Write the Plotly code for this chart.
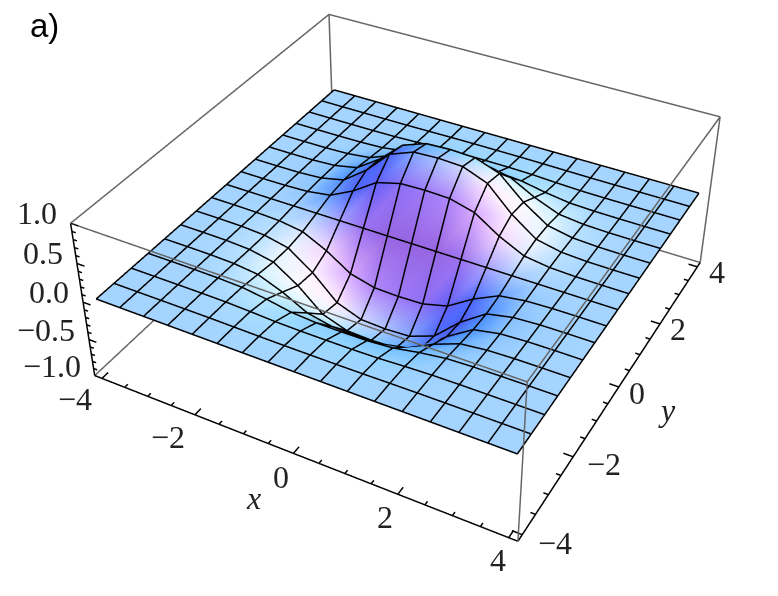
import numpy as np
import plotly.graph_objects as go

x_values = [-4, -3.5, -3, -2.5, -2, -1.5, -1, -0.5, 0, 0.5, 1, 1.5, 2, 2.5, 3, 3.5, 4]
y_values = [-4, -3.5, -3, -2.5, -2, -1.5, -1, -0.5, 0, 0.5, 1, 1.5, 2, 2.5, 3, 3.5, 4]
# surface height, rows run along y, columns along x
z_rows = [
 [0]*17,
 [0,0,0,0,-.001,-.004,-.008,-.01,-.01,-.01,-.008,-.004,-.001,0,0,0,0],
 [0,0,0,-.001,-.005,-.017,-.033,-.039,-.04,-.039,-.033,-.017,-.005,-.001,0,0,0],
 [0,0,-.001,-.005,-.018,-.063,-.123,-.147,-.15,-.147,-.123,-.063,-.018,-.005,-.001,0,0],
 [0,0,-.002,-.013,-.05,-.176,-.344,-.412,-.42,-.412,-.344,-.176,-.05,-.013,-.002,0,0],
 [0,0,-.004,-.021,-.084,-.294,-.574,-.686,-.70,-.686,-.574,-.294,-.084,-.021,-.004,0,0],
 [0,0,-.004,-.023,-.091,-.319,-.623,-.745,-.76,-.745,-.623,-.319,-.091,-.023,-.004,0,0],
 [0,0,-.003,-.016,-.062,-.218,-.426,-.51,-.52,-.51,-.426,-.218,-.062,-.016,-.003,0,0],
 [0]*17,
 [0,0,.003,.016,.062,.218,.426,.51,.52,.51,.426,.218,.062,.016,.003,0,0],
 [0,0,.004,.023,.091,.319,.623,.745,.76,.745,.623,.319,.091,.023,.004,0,0],
 [0,0,.004,.021,.084,.294,.574,.686,.70,.686,.574,.294,.084,.021,.004,0,0],
 [0,0,.002,.013,.05,.176,.344,.412,.42,.412,.344,.176,.05,.013,.002,0,0],
 [0,0,.001,.005,.018,.063,.123,.147,.15,.147,.123,.063,.018,.005,.001,0,0],
 [0,0,0,.001,.005,.017,.033,.039,.04,.039,.033,.017,.005,.001,0,0,0],
 [0,0,0,0,.001,.004,.008,.01,.01,.01,.008,.004,.001,0,0,0,0],
 [0]*17,
]
xy_ticks = [-4, -2, 0, 2, 4]
xy_minor = [-3.5,-3,-2.5,-1.5,-1,-.5,.5,1,1.5,2.5,3,3.5]
z_ticks = [-1.0, -0.5, 0.0, 0.5, 1.0]
z_minor = [-.9,-.8,-.7,-.6,-.4,-.3,-.2,-.1,.1,.2,.3,.4,.6,.7,.8,.9]

X = np.array(x_values, float)
Y = np.array(y_values, float)
Z = np.array(z_rows, float)
BOX = (1.0, 1.0, 0.4)
VIEW = np.array([1.3, -2.4, 2.0])
XY_EDGE = 4.16
Z_EDGE = 1.0

v = VIEW / np.linalg.norm(VIEW)
r = np.cross(-v, [0, 0, 1]); r /= np.linalg.norm(r)
u = np.cross(r, -v)
dz_y, dz_x = np.gradient(Z * BOX[2] / (2 * Z_EDGE), Y * BOX[1] / (2 * XY_EDGE), X * BOX[0] / (2 * XY_EDGE))
n = np.dstack([-dz_x, -dz_y, np.ones_like(Z)])
n /= np.linalg.norm(n, axis=2, keepdims=True)
nc = np.dstack([n @ r, n @ u, n @ v])
def lit(d):
    d = np.array(d, float); d /= np.linalg.norm(d)
    return np.clip(nc @ d, 0, None)
R = np.clip(.312 + .8 * lit([2, 0, 2]), 0, 1)
G = np.clip(.188 + .8 * lit([2, 2, 2]), 0, 1)
B = np.clip(.4 + .8 * lit([0, 2, 2]), 0, 1)
colors = [f"rgb({int(a*255)},{int(b*255)},{int(c*255)})" for a, b, c in zip(R.ravel(), G.ravel(), B.ravel())]

XX, YY = np.meshgrid(X, Y)
nx, ny = len(X), len(Y)
I, J, K = [], [], []
for a in range(ny - 1):
    for b in range(nx - 1):
        p = a * nx + b
        I += [p, p]; J += [p + 1, p + nx + 1]; K += [p + nx + 1, p + nx]

fig = go.Figure()
fig.add_trace(go.Mesh3d(x=XX.ravel(), y=YY.ravel(), z=Z.ravel(), i=I, j=J, k=K,
    vertexcolor=colors, flatshading=False, hoverinfo="skip",
    lighting=dict(ambient=1, diffuse=0, specular=0, roughness=1, fresnel=0)))

mx, my, mz = [], [], []
for a in range(ny):
    mx += list(X) + [None]; my += [Y[a]] * nx + [None]; mz += list(Z[a] + .012) + [None]
for b in range(nx):
    mx += [X[b]] * ny + [None]; my += list(Y) + [None]; mz += list(Z[:, b] + .012) + [None]
fig.add_trace(go.Scatter3d(x=mx, y=my, z=mz, mode="lines", line=dict(color="black", width=3), hoverinfo="skip", showlegend=False))

E = XY_EDGE
# grey back and top edges of the box
gx = [-E, E, E, -E, -E, None, E, E, None, E, E, None, -E, -E, None, -E, E, E, None, -E, -E]
gy = [-E, -E, E, E, -E, None, -E, -E, None, E, E, None, E, E, None, E, E, -E, None, E, -E]
gz = [1, 1, 1, 1, 1, None, 1, -1, None, 1, -1, None, 1, -1, None, -1, -1, -1, None, -1, -1]
fig.add_trace(go.Scatter3d(x=gx, y=gy, z=gz, mode="lines", line=dict(color="#666666", width=3), hoverinfo="skip", showlegend=False))

# black front edges and ticks pointing into the box
ex, ey, ez = [-E, E, None, E, E, None, -E, -E], [-E, -E, None, -E, E, None, -E, -E], [-1, -1, None, -1, -1, None, -1, 1]
for t, L in [(t, .18) for t in xy_ticks] + [(t, .09) for t in xy_minor]:
    ex += [None, t, t]; ey += [None, -E, -E + L]; ez += [None, -1, -1]
    ex += [None, E, E - L]; ey += [None, t, t]; ez += [None, -1, -1]
for t, L in [(t, .16) for t in z_ticks] + [(t, .08) for t in z_minor]:
    ex += [None, -E, -E + L]; ey += [None, -E, -E]; ez += [None, t, t]
fig.add_trace(go.Scatter3d(x=ex, y=ey, z=ez, mode="lines", line=dict(color="black", width=3), hoverinfo="skip", showlegend=False))

FONT = dict(family="Liberation Serif", size=32, color="#222222")
def axis(rng):
    return dict(range=rng, showgrid=False, zeroline=False, showbackground=False, showticklabels=False,
                showline=False, ticks="", showspikes=False, title=dict(text=""))

def minus(v, fmt):
    return format(v, fmt).replace("-", "\u2212")
X_LABEL_SHIFT = {-4: (-27, -21), -2: (-27, -22), 0: (-12, -24), 2: (-13, -23), 4: (-11, -22)}
Y_LABEL_SHIFT = {-4: (33, -8), -2: (31, -7), 0: (18, -6), 2: (18, -5), 4: (20, -5)}
notes = []
for t in xy_ticks:
    notes.append(dict(x=t, y=-E, z=-1, text=minus(t, "d"), xanchor="center", yanchor="middle", xshift=X_LABEL_SHIFT[t][0], yshift=X_LABEL_SHIFT[t][1], showarrow=False, font=FONT))
    notes.append(dict(x=E, y=t, z=-1, text=minus(t, "d"), xanchor="center", yanchor="middle", xshift=Y_LABEL_SHIFT[t][0], yshift=Y_LABEL_SHIFT[t][1], showarrow=False, font=FONT))
for t in z_ticks:
    notes.append(dict(x=-E, y=-E, z=t, text=minus(t, ".1f"), xanchor="right", yanchor="middle", xshift=-12, yshift=10, showarrow=False, font=FONT))
notes.append(dict(x=0, y=-E, z=-1, text="<i>x</i>", xanchor="center", yanchor="middle", xshift=-40, yshift=-45, showarrow=False, font=FONT))
notes.append(dict(x=E, y=0, z=-1, text="<i>y</i>", xanchor="center", yanchor="middle", xshift=48, yshift=-23, showarrow=False, font=FONT))

# Plotly's lens is fixed at 45 degrees, so the scene is laid out larger than the window
# (long-lens perspective of the reference) and the page is offset to centre it in the window.
FIG_W, FIG_H = 1693, 1293
OFF_X, OFF_Y = 435, 402
eye = VIEW
fig.update_layout(
    width=FIG_W, height=FIG_H, margin=dict(l=0, r=0, t=0, b=0), paper_bgcolor="white", showlegend=False,
    scene=dict(
        domain=dict(x=[0, 1], y=[0, 1]),
        aspectmode="manual", aspectratio=dict(x=BOX[0], y=BOX[1], z=BOX[2]),
        xaxis=axis([-E, E]), yaxis=axis([-E, E]), zaxis=axis([-Z_EDGE, Z_EDGE]),
        camera=dict(eye=dict(x=eye[0], y=eye[1], z=eye[2]), center=dict(x=0, y=0, z=0),
                    up=dict(x=0, y=0, z=1), projection=dict(type="perspective")),
        annotations=notes,
    ),
    annotations=[dict(text="a)", xref="paper", yref="paper", x=(OFF_X + 28)/FIG_W, y=1-(OFF_Y + 26)/FIG_H, xanchor="left", yanchor="middle",
                      showarrow=False, font=dict(family="Liberation Sans", size=33, color="black"))],
)
fig.write_html("out.html", post_script=(
    "document.documentElement.style.overflow='hidden';document.body.style.overflow='hidden';"
    "var gd=document.getElementById('{plot_id}');gd.style.position='absolute';"
    f"gd.style.left='-{OFF_X}px';gd.style.top='-{OFF_Y}px';"))
